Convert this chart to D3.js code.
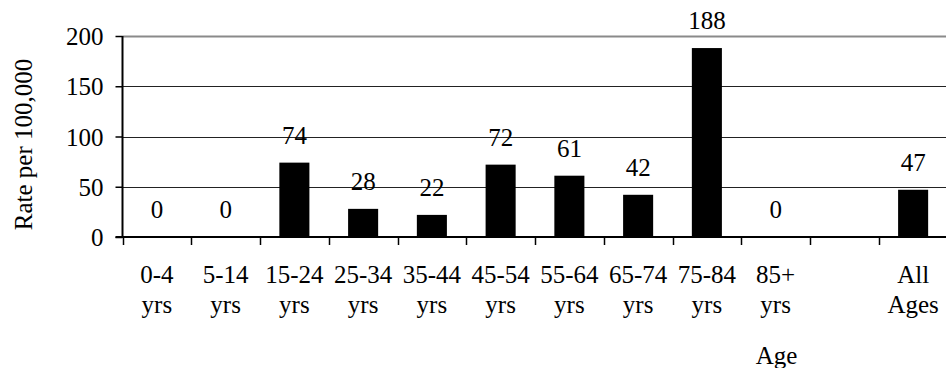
<!DOCTYPE html>
<html>
<head>
<meta charset="utf-8">
<script src="https://cdn.jsdelivr.net/npm/d3@7"></script>
<style>
  html, body { margin: 0; padding: 0; background: #fff; }
  svg text { font-family: "Liberation Serif", "Times New Roman", serif; fill: #000; }
</style>
</head>
<body>
<svg id="chart" width="946" height="368"></svg>
<script>
// Age groups (one blank slot separates the age bands from the total)
const categories = ["0-4 yrs", "5-14 yrs", "15-24 yrs", "25-34 yrs", "35-44 yrs",
  "45-54 yrs", "55-64 yrs", "65-74 yrs", "75-84 yrs", "85+ yrs", "", "All Ages"];
// Rate per 100,000 for each group
const rates = [0, 0, 74, 28, 22, 72, 61, 42, 188, 0, null, 47];
const yTicks = [0, 50, 100, 150, 200];
const yTitle = "Rate per 100,000";
const xTitle = "Age";

const svg = d3.select("#chart");
const plotLeft = 122.5, plotRight = 947.5, plotTop = 36, plotBottom = 237;
const fontSize = 25;

const x = d3.scaleBand().domain(d3.range(categories.length)).range([plotLeft, plotRight]).padding(0);
const y = d3.scaleLinear().domain([0, 200]).range([plotBottom, plotTop]);
const barW = x.bandwidth() * 0.437;

// gridlines
svg.append("g").selectAll("line")
  .data(yTicks.filter(t => t > 0))
  .join("line")
  .attr("x1", plotLeft).attr("x2", plotRight)
  .attr("y1", d => Math.round(y(d)) + 0.5).attr("y2", d => Math.round(y(d)) + 0.5)
  .attr("stroke", d => d === 200 ? "#8a8a8a" : "#222")
  .attr("stroke-width", d => d === 200 ? 2 : 1);

// bars
const data = rates.map((v, i) => ({ i, v }));
svg.append("g").selectAll("rect")
  .data(data.filter(d => d.v !== null && d.v > 0))
  .join("rect")
  .attr("x", d => x(d.i) + (x.bandwidth() - barW) / 2)
  .attr("width", barW)
  .attr("y", d => y(d.v))
  .attr("height", d => y(0) - y(d.v))
  .attr("fill", "#000");

// value labels
svg.append("g").selectAll("text")
  .data(data.filter(d => d.v !== null))
  .join("text")
  .attr("x", d => x(d.i) + x.bandwidth() / 2)
  .attr("y", d => y(d.v) - 19)
  .attr("text-anchor", "middle")
  .attr("font-size", fontSize)
  .text(d => d.v);

// y axis
const yAxis = svg.append("g")
  .attr("transform", `translate(${plotLeft},0)`)
  .call(d3.axisLeft(y).tickValues(yTicks).tickSize(7).tickPadding(12).tickFormat(d3.format("d")));
yAxis.select(".domain").attr("stroke", "#000").attr("stroke-width", 2).attr("d", `M0,${plotTop}V${plotBottom}`);
yAxis.selectAll(".tick line").attr("stroke", "#000").attr("stroke-width", 1.5);
yAxis.selectAll(".tick text").attr("font-size", fontSize).attr("font-family", "Liberation Serif").attr("dy", "0.34em");

// x axis with ticks on band boundaries
const xAxisG = svg.append("g");
xAxisG.append("line")
  .attr("x1", plotLeft - 7).attr("x2", plotRight)
  .attr("y1", plotBottom).attr("y2", plotBottom)
  .attr("stroke", "#000").attr("stroke-width", 2);
xAxisG.selectAll("line.tick")
  .data(d3.range(categories.length))
  .join("line")
  .attr("class", "tick")
  .attr("x1", d => Math.round(x(d)) + 0.5).attr("x2", d => Math.round(x(d)) + 0.5)
  .attr("y1", plotBottom).attr("y2", plotBottom + 8)
  .attr("stroke", "#000").attr("stroke-width", 1.5);

// category labels, two lines each
const catLabels = xAxisG.selectAll("text.cat")
  .data(categories.map((c, i) => ({ c, i })).filter(d => d.c))
  .join("text")
  .attr("class", "cat")
  .attr("text-anchor", "middle")
  .attr("font-size", fontSize)
  .attr("transform", d => `translate(${x(d.i) + x.bandwidth() / 2},0)`);
catLabels.selectAll("tspan")
  .data(d => d.c.split(" "))
  .join("tspan")
  .attr("x", 0)
  .attr("y", (d, k) => 283 + k * 30)
  .text(d => d);

// axis titles
svg.append("text")
  .attr("transform", `translate(32,${(plotTop + plotBottom) / 2 + 8}) rotate(-90)`)
  .attr("text-anchor", "middle")
  .attr("font-size", fontSize)
  .text(yTitle);

svg.append("text")
  .attr("x", x(9) + x.bandwidth() / 2 + 1)
  .attr("y", 364)
  .attr("text-anchor", "middle")
  .attr("font-size", fontSize)
  .text(xTitle);
</script>
</body>
</html>
